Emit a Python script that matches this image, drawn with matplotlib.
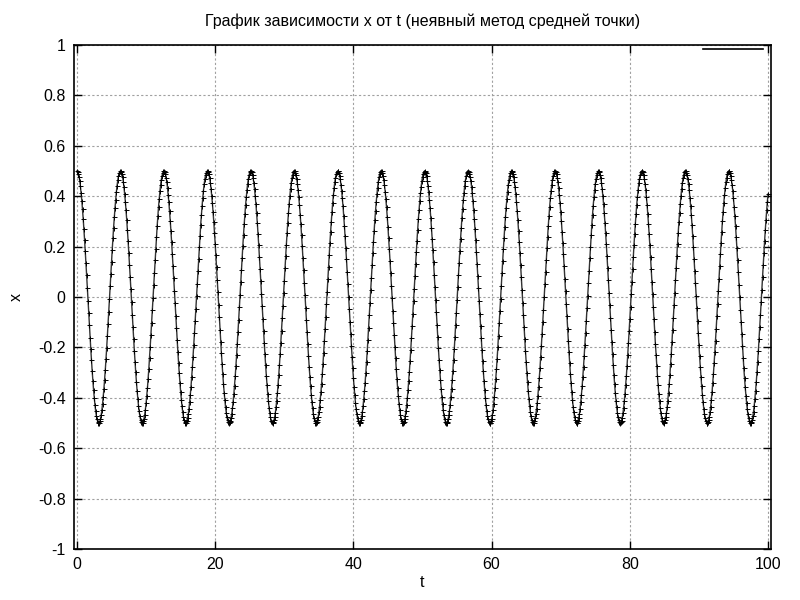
import matplotlib
matplotlib.use('Agg')
import matplotlib.pyplot as plt
from matplotlib.lines import Line2D
import numpy as np

# параметры расчёта (гармонический осциллятор x'' = -x)
t_start = 0.0
t_end = 100.0
h = 0.1
x0 = 0.5
v0 = 0.0

x_ticks = [0, 20, 40, 60, 80, 100]
y_ticks = [-1, -0.8, -0.6, -0.4, -0.2, 0, 0.2, 0.4, 0.6, 0.8, 1]
y_tick_labels = ['-1', '-0.8', '-0.6', '-0.4', '-0.2', '0', '0.2', '0.4', '0.6', '0.8', '1']

title = 'График зависимости x от t (неявный метод средней точки)'


def neyavny_srednyaya_tochka(x0, v0, h, n):
    # неявный метод средней точки для x' = v, v' = -x
    a = h / 2.0
    det = 1.0 + a * a
    xs = [x0]
    vs = [v0]
    x, v = x0, v0
    for _ in range(n):
        rx = x + a * v
        rv = v - a * x
        x_new = (rx + a * rv) / det
        v_new = (rv - a * rx) / det
        x, v = x_new, v_new
        xs.append(x)
        vs.append(v)
    return np.array(xs), np.array(vs)


n_steps = int(round((t_end - t_start) / h))
t = t_start + h * np.arange(n_steps + 1)
x, v = neyavny_srednyaya_tochka(x0, v0, h, n_steps)

plt.rcParams['font.family'] = ['Liberation Sans', 'DejaVu Sans']
plt.rcParams['axes.unicode_minus'] = False

fig = plt.figure(figsize=(8, 6), dpi=100)
ax = fig.add_axes([74 / 800, 1 - 549 / 600, (771 - 74) / 800, (549 - 45) / 600])

ax.plot(t, x, color='#333333', linewidth=1.0)
ax.plot(t, x, linestyle='none', marker='+', color='black',
        markersize=3.6, markeredgewidth=0.7)

ax.set_xlim(-0.43, 100.43)
ax.set_ylim(-1, 1)
ax.set_xticks(x_ticks)
ax.set_yticks(y_ticks)
ax.set_yticklabels(y_tick_labels)
ax.tick_params(direction='in', length=6, width=1, top=True, right=True,
               labelsize=11.5, pad=6, colors='black')
for s in ax.spines.values():
    s.set_linewidth(1.2)

ax.grid(True, color='#a0a0a0', linestyle=(0, (2, 2)), linewidth=0.8)

ax.set_title(title, fontsize=11.5, pad=14)
ax.set_xlabel('t', fontsize=11.5, labelpad=2)
ax.set_ylabel('x', fontsize=11.5, labelpad=10)

handle = Line2D([], [], color='black', linewidth=1.2)
ax.legend([handle], [''], loc='upper right', frameon=False,
          bbox_to_anchor=(0.9885, 1.004),
          handlelength=3.75, handletextpad=0.0, borderaxespad=0.0,
          borderpad=0.0, fontsize=11.5)

fig.savefig('out.png', dpi=100)
